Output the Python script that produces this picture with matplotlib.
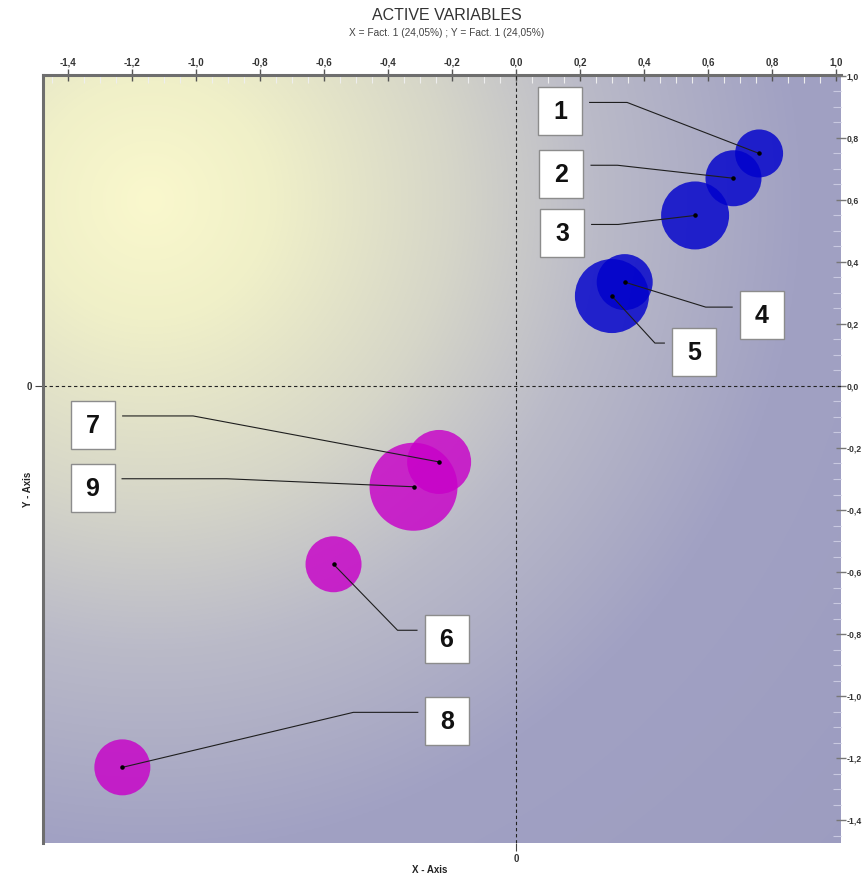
import numpy as np
import matplotlib
matplotlib.use("Agg")
import matplotlib.pyplot as plt
import matplotlib.transforms as mtransforms
from matplotlib.patches import Rectangle
from matplotlib.ticker import MultipleLocator

# data
labels = ['1', '2', '3', '4', '5', '6', '7', '8', '9']
x_vals = [0.76, 0.68, 0.56, 0.34, 0.30, -0.57, -0.24, -1.23, -0.32]
y_vals = [0.75, 0.67, 0.55, 0.335, 0.29, -0.575, -0.245, -1.23, -0.325]
bubble_size = [24, 28, 34, 28, 37, 28, 32, 28, 44]
groups = ['blue', 'blue', 'blue', 'blue', 'blue', 'mag', 'mag', 'mag', 'mag']

x_ticks = [-1.4, -1.2, -1.0, -0.8, -0.6, -0.4, -0.2, 0.0, 0.2, 0.4, 0.6, 0.8, 1.0]
y_ticks = [1.0, 0.8, 0.6, 0.4, 0.2, 0.0, -0.2, -0.4, -0.6, -0.8, -1.0, -1.2, -1.4]

title = "ACTIVE VARIABLES"
subtitle = "X = Fact. 1 (24,05%) ; Y = Fact. 1 (24,05%)"

colors = {'blue': '#0000cc', 'mag': '#c800c8'}

# label box placement, pixel offsets from the point (image y down):
# (box centre, elbow of the leader line)
label_layout = {
    '1': ((-199, -42), (-132, -51)),
    '2': ((-172, -4), (-116, -13)),
    '3': ((-133, 18), (-77, 9)),
    '4': ((137, 33), (81, 25)),
    '5': ((82, 56), (43, 47)),
    '6': ((113, 75), (64, 66)),
    '7': ((-346, -37), (-246, -46)),
    '8': ((325, -46), (231, -55)),
    '9': ((-321, 1), (-187, -8)),
}

plt.rcParams['font.family'] = ['Liberation Sans', 'DejaVu Sans']

DPI = 100
fig = plt.figure(figsize=(8.63, 8.77), dpi=DPI)
ax = fig.add_axes([43 / 863, 1 - 843 / 877, 798 / 863, 768 / 877])

xmin, xmax = -1.478, 1.016
ymin, ymax = -1.474, 1.003

# radial background gradient
gx = np.linspace(xmin, xmax, 400)
gy = np.linspace(ymax, ymin, 400)
GX, GY = np.meshgrid(gx, gy)
d = np.hypot((GX + 1.144) * 320, (GY - 0.60) * 310)
stops_d = [0, 120, 300, 450, 650, 1000]
stops_c = np.array([[250, 248, 205], [240, 240, 200], [214, 214, 200],
                    [186, 186, 200], [161, 161, 195], [156, 156, 192]]) / 255.0
img = np.dstack([np.interp(d, stops_d, stops_c[:, k]) for k in range(3)])
ax.imshow(img, extent=(xmin, xmax, ymin, ymax), aspect='auto', zorder=0,
          interpolation='bilinear')

ax.axhline(0, color='#222222', lw=0.8, ls=(0, (3, 2.5)), zorder=1)
ax.axvline(0, color='#222222', lw=0.8, ls=(0, (3, 2.5)), zorder=1)

# bubbles
for x, y, r, g in zip(x_vals, y_vals, bubble_size, groups):
    ax.scatter(x, y, s=(2 * r * 72 / DPI) ** 2, color=colors[g], alpha=0.82,
               edgecolors='none', zorder=3)
ax.scatter(x_vals, y_vals, s=5, color='black', zorder=5)

# label boxes with leader lines
bw, bh = 44, 48
for lab, x, y in zip(labels, x_vals, y_vals):
    (cx, cy), (ex, ey) = label_layout[lab]
    tr = mtransforms.Affine2D().scale(1, -1) + mtransforms.ScaledTranslation(x, y, ax.transData)
    side = 1 if ex > cx else -1
    sx = cx + side * (bw / 2 + 7)
    ax.plot([sx, ex, 0], [ey, ey, 0], transform=tr, color='#1e1e1e', lw=0.8,
            zorder=4, solid_capstyle='butt')
    ax.add_patch(Rectangle((cx - bw / 2, cy - bh / 2), bw, bh, transform=tr,
                           facecolor='white', edgecolor='#8c8c8c', lw=1, zorder=6))
    ax.text(cx, cy + 1, lab, transform=tr, ha='center', va='center',
            fontsize=18, fontweight='bold', color='#111111', zorder=7)

ax.set_xlim(xmin, xmax)
ax.set_ylim(ymin, ymax)

fmt = lambda v: f"{v:.1f}".replace('.', ',').replace('-0,0', '0,0')

# primary axes: only the origin is labelled
ax.set_xticks([0], labels=['0'])
ax.set_yticks([0], labels=['0'])
ax.tick_params(axis='both', length=6, width=0.8, color='#444444', labelsize=7,
               labelcolor='#333333', pad=2)
for lbl in ax.get_xticklabels() + ax.get_yticklabels():
    lbl.set_fontweight('bold')
for s in ['top', 'right', 'bottom']:
    ax.spines[s].set_visible(False)
ax.spines['left'].set_color('#6e6e6e')
ax.spines['left'].set_linewidth(2.2)

secx = ax.secondary_xaxis('top')
secx.set_xticks(x_ticks, labels=[fmt(v) for v in x_ticks])
secx.xaxis.set_minor_locator(MultipleLocator(0.05))
secx.tick_params(which='major', direction='inout', length=9, width=1, color='#555555',
                 labelsize=7, labelcolor='#333333', pad=1)
secx.tick_params(which='minor', direction='in', length=6, width=0.8, color='#eeeeee')
for lbl in secx.get_xticklabels():
    lbl.set_fontweight('bold')
secx.spines['top'].set_color('#6e6e6e')
secx.spines['top'].set_linewidth(2.2)

secy = ax.secondary_yaxis('right')
secy.set_yticks(y_ticks, labels=[fmt(v) for v in y_ticks])
secy.yaxis.set_minor_locator(MultipleLocator(0.05))
secy.tick_params(which='major', direction='inout', length=7, width=1, color='#777777',
                 labelsize=6.2, labelcolor='#333333', pad=0.5)
secy.tick_params(which='minor', direction='in', length=6, width=0.8, color='#c8c8e0')
for lbl in secy.get_yticklabels():
    lbl.set_fontweight('bold')
secy.spines['right'].set_visible(False)

ax.set_xlabel("X - Axis", fontsize=7, fontweight='bold', color='#222222')
ax.xaxis.set_label_coords(0.485, -0.028)
ax.set_ylabel("Y - Axis", fontsize=7, fontweight='bold', color='#222222')
ax.yaxis.set_label_coords(-0.013, 0.46)

fig.text(447 / 863, 1 - 16 / 877, title, ha='center', va='center',
         fontsize=11.5, color='#333333')
fig.text(447 / 863, 1 - 33 / 877, subtitle, ha='center', va='center',
         fontsize=7.3, color='#444444')

fig.savefig("out.png", dpi=DPI)
